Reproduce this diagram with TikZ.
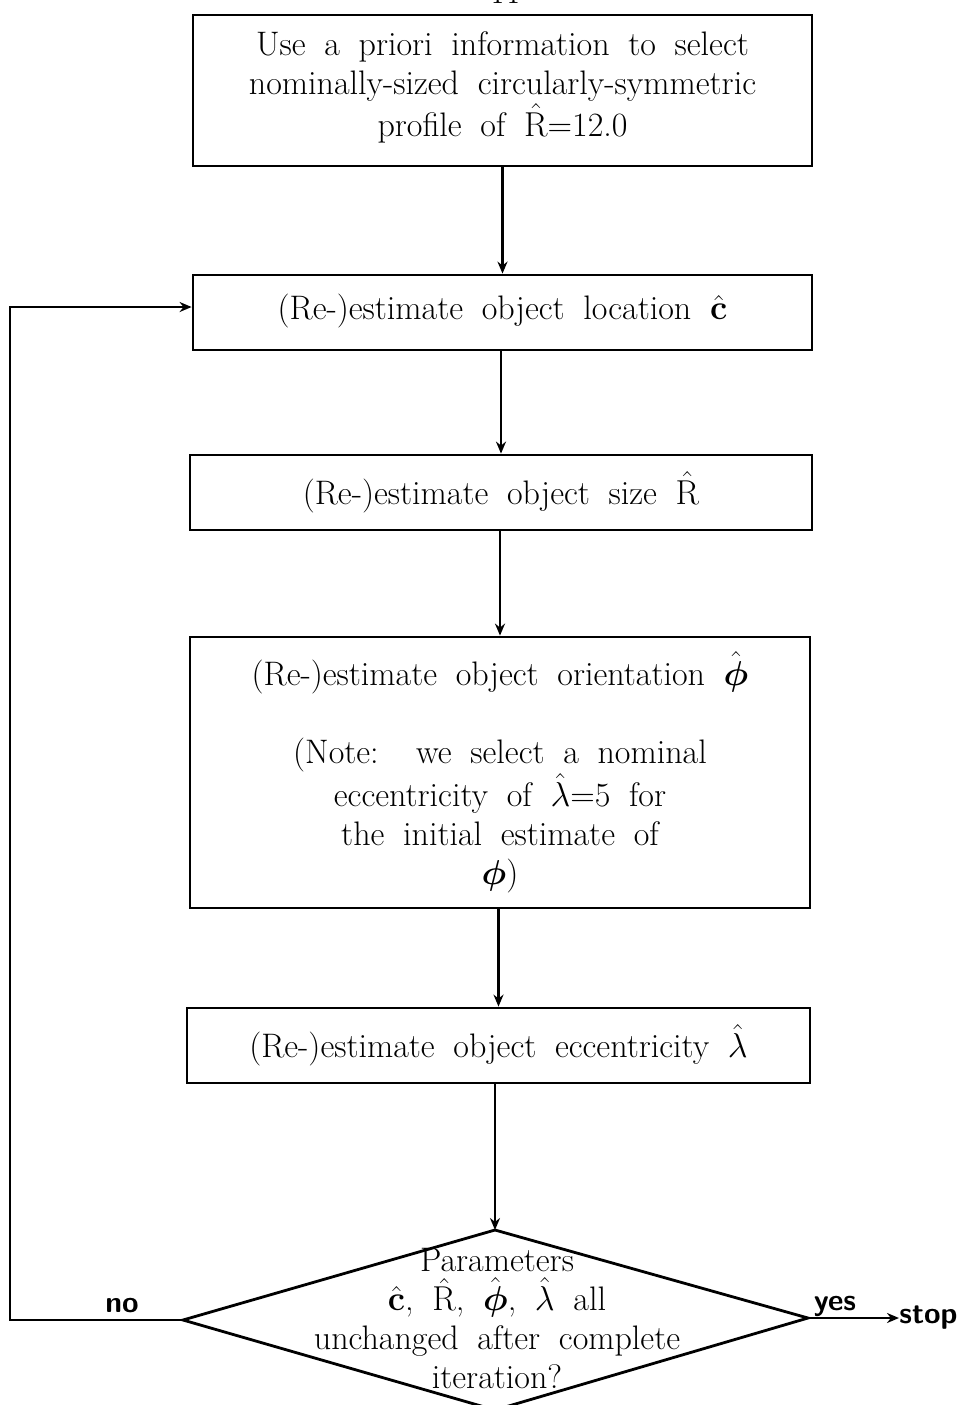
\documentclass[tikz,border=0pt]{standalone}
\usepackage{amsmath}
\usetikzlibrary{arrows.meta}
\newcommand{\flowfont}{\fontsize{17}{19.5}\selectfont\spaceskip=0.55em plus 0.1em minus 0.05em\relax}
\begin{document}
\begin{tikzpicture}[x=0.5pt,y=-0.5pt,
  every node/.style={inner sep=0pt},
  box/.style={draw,line width=1.4pt,align=center,font=\flowfont},
  txt/.style={align=center,font=\flowfont},
  lbl/.style={font=\sffamily\bfseries\fontsize{15}{17}\selectfont},
  conn/.style={line width=1.4pt},
  arr/.style={line width=1.4pt,-{Stealth[length=6pt,width=5pt]}}]
\useasboundingbox (0,0) rectangle (966,1405);
\node[txt] (pg) at (503,-8) {-44-};
\node[box,minimum width=309.5pt,minimum height=75.5pt] (b1) at (502.5,90.5)
  {Use a priori information to select\\nominally-sized circularly-symmetric\\profile of $\hat{\mathrm{R}}$=12.0\\[-13pt]};
\node[box,minimum width=309.5pt,minimum height=37.5pt] (b2) at (502.5,312.5)
  {(Re-)estimate object location $\hat{\mathbf{c}}$\\[-14pt]};
\node[box,minimum width=311pt,minimum height=37.5pt] (b3) at (501,492.5)
  {(Re-)estimate object size $\hat{\mathrm{R}}$};
\node[box,minimum width=310pt,minimum height=135.5pt] (b4) at (500,772.5)
  {(Re-)estimate object orientation $\hat{\boldsymbol{\phi}}$\\[19.5pt]
   (Note:\ \ we select a nominal\\eccentricity of $\hat{\lambda}$=5 for\\the initial estimate of\\$\boldsymbol{\phi}$)};
\node[box,minimum width=311.5pt,minimum height=37.5pt] (b5) at (498.5,1045.5)
  {(Re-)estimate object eccentricity $\hat{\lambda}$};
% decision diamond
\coordinate (dt) at (495,1230);
\coordinate (dl) at (183,1320);
\coordinate (dr) at (808,1318);
\coordinate (db) at (495,1410);
\draw[conn,line join=miter] (dt) -- (dr) -- (db) -- (dl) -- cycle;
\node[txt] (dq) at (497,1319)
  {Parameters\\$\hat{\mathbf{c}}$, $\hat{\mathrm{R}}$, $\hat{\boldsymbol{\phi}}$, $\hat{\lambda}$ all\\unchanged after complete\\iteration?};
% connectors
\draw[arr] (b1.south) -- (b1.south |- b2.north);
\draw[arr] (b2.south -| b3.north) -- (b3.north);
\draw[arr] (b3.south -| b4.north) -- (b4.north);
\draw[arr] (b4.south -| b5.north) -- (b5.north);
\draw[arr] (b5.south -| dt) -- (dt);
\coordinate (c1) at (10,1320);
\coordinate (c2) at (10,307);
\draw[arr] (dl) -- (c1) -- (c2) -- (c2 -| b2.west);
\node[lbl,anchor=west] (stop) at (899,1318) {stop};
\draw[arr] (dr) -- (stop.west);
\node[lbl] (no) at (122,1306) {no};
\node[lbl] (yes) at (835,1306) {yes};
\end{tikzpicture}
\end{document}
